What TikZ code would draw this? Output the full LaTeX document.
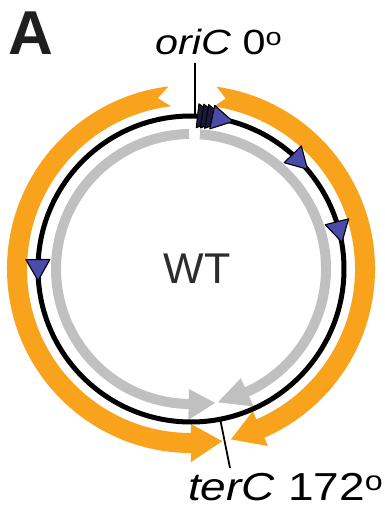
\documentclass[tikz,border=0pt]{standalone}
\usepackage{fontspec}
\setmainfont{Liberation Sans}
\usetikzlibrary{calc}
\definecolor{orng}{RGB}{248,163,27}
\definecolor{gry}{RGB}{192,192,192}
\definecolor{blu}{RGB}{75,75,170}
\definecolor{wtgray}{RGB}{45,45,45}
\tikzset{
  tri/.style={fill=blu, draw=black, line width=1.1pt, line join=round},
  tridark/.style={fill=blu!35!black, draw=black, line width=1.1pt, line join=round},
  tick/.style={draw=black, line width=1.8pt},
  lbl/.style={inner sep=0pt}
}
\newcommand{\mytri}[3]{%
  \begin{scope}[shift={(#1:153pt)}, rotate=#2]
    \path[#3] (10.5pt,0) -- (-10.5pt,12pt) -- (-10.5pt,-12pt) -- cycle;
  \end{scope}}
\begin{document}
\begin{tikzpicture}[x=1pt,y=1pt]
\useasboundingbox (-191,-240) rectangle (194,269);
% orange arrows
\fill[orng] (97:184pt) arc[start angle=97, end angle=270, radius=184pt]
  -- (270:193pt) -- (280.3:175pt) -- (270:155pt) -- (270:164pt)
  arc[start angle=270, end angle=97, radius=164pt] -- (101:174pt) -- cycle;
\fill[orng] (82:184pt) arc[start angle=82, end angle=-66.5, radius=184pt]
  -- (-66.5:193pt) -- (-76.8:175pt) -- (-66.5:155pt) -- (-66.5:164pt)
  arc[start angle=-66.5, end angle=82, radius=164pt] -- (78.5:174pt) -- cycle;
% gray arrows
\fill[gry] (90.85:140pt) arc[start angle=90.85, end angle=269, radius=140pt]
  -- (269:151pt) -- (280.2:136pt) -- (269:120pt) -- (269:130pt)
  arc[start angle=269, end angle=90.85, radius=130pt] -- cycle;
\fill[gry] (86.2:140pt) arc[start angle=86.2, end angle=-65.5, radius=140pt]
  -- (-65.5:151pt) -- (-78.6:136pt) -- (-65.5:120pt) -- (-65.5:130pt)
  arc[start angle=-65.5, end angle=86.2, radius=130pt] -- cycle;
% chromosome
\draw[line width=5pt] (0,0) circle[radius=153pt];
% stacked triangles at origin
\mytri{83.6}{-6.4}{tridark}
\mytri{81.9}{-8.1}{tridark}
\mytri{80.2}{-9.8}{tridark}
\mytri{78.1}{-11.9}{tri}
\mytri{44.5}{-45.5}{tri}
\mytri{14}{-76}{tri}
\mytri{180.4}{270.4}{tri}
% labels
\node[lbl, anchor=base west] (ori) at (-36,214)
  {\scalebox{1.18}[1]{\fontsize{35}{37}\selectfont\textit{oriC} 0\textsuperscript{o}}};
\node[lbl, anchor=base west] (ter) at (-3,-231)
  {\scalebox{1.18}[1]{\fontsize{39}{41}\selectfont\textit{terC} 172\textsuperscript{o}}};
\node[lbl, anchor=base, text=wtgray, font=\fontsize{43}{45}\selectfont] (wt) at (6,-14) {WT};
\node[lbl, anchor=base west, text=black!88, font=\fontsize{62}{64}\bfseries] (A) at (-183,214) {A};
% ticks
\coordinate (oriA) at (88.5:153pt);
\coordinate (oriB) at (4,206);
\coordinate (terA) at (-79:153pt);
\coordinate (terB) at (39,-199);
\draw[tick] (oriB) -- (oriA);
\draw[tick] (terA) -- (terB);
\end{tikzpicture}
\end{document}
